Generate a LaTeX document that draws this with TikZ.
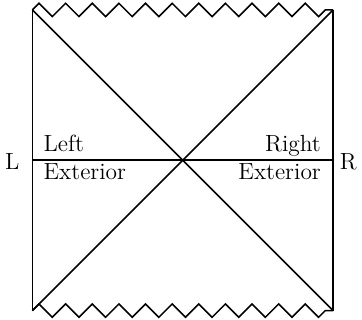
\documentclass[tikz,border=0pt]{standalone}
\usetikzlibrary{decorations.pathmorphing}
\tikzset{
  singular/.style={decorate, decoration={zigzag, segment length=0.48cm, amplitude=0.12cm}},
  region/.style={inner sep=0pt, font=\large},
}
\begin{document}
\begin{tikzpicture}[thick]

% Frame of the picture
\useasboundingbox (-3.293,-2.878) rectangle (3.232,2.889);

% === CORNERS ===
\coordinate (nw) at (-2.71,2.71);
\coordinate (ne) at (2.71,2.71);
\coordinate (sw) at (-2.71,-2.71);
\coordinate (se) at (2.71,-2.71);
\coordinate (w) at (-2.71,0);
\coordinate (e) at (2.71,0);

% === BOUNDARY ===
\draw (sw) -- (nw);
\draw (se) -- (ne);
\draw[singular] (nw) -- (ne);
\draw[singular] (sw) -- (se);

% === HORIZONS ===
\draw (nw) -- (se);
\draw (sw) -- (ne);
\draw (w) -- (e);

% === LABELS ===
\node[region, anchor=base east] (L) at (-2.93,-0.175) {L};
\node[region, anchor=base west] (R) at (2.82,-0.175) {R};
\node[region, anchor=base west] (leftup) at (-2.52,0.158) {Left};
\node[region, anchor=base west] (leftdown) at (-2.52,-0.355) {Exterior};
\node[region, anchor=base east] (rightup) at (2.505,0.158) {Right};
\node[region, anchor=base east] (rightdown) at (2.505,-0.355) {Exterior};

\end{tikzpicture}
\end{document}
